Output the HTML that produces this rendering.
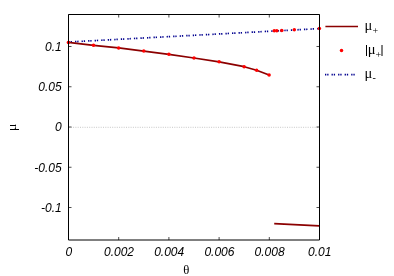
<!DOCTYPE html><html><head><meta charset="utf-8"><style>html,body{margin:0;padding:0;background:#fff}svg{display:block;will-change:transform}text{font-family:"Liberation Sans",sans-serif;fill:#000}</style></head><body>
<svg width="394" height="276" viewBox="0 0 394 276">
<rect width="394" height="276" fill="#fff"/>
<line x1="68.5" y1="127.3" x2="319.5" y2="127.3" stroke="#a8a8a8" stroke-width="0.65" stroke-dasharray="1 1.3"/>
<line x1="68.5" y1="42.0" x2="319.5" y2="28.6" stroke="#00008f" stroke-width="1.7" stroke-dasharray="1.3 0.9 1.3 3.05"/>
<polyline points="68.4,42.4 93.5,45.3 118.65,47.9 143.75,51.1 168.9,54.3 194.0,58.0 219.1,61.85 244.15,66.7 256.6,70.2 269.1,75.05" fill="none" stroke="#8b0000" stroke-width="1.7" stroke-linejoin="round"/>
<line x1="274.2" y1="223.7" x2="319.3" y2="225.8" stroke="#8b0000" stroke-width="1.7"/>
<circle cx="68.4" cy="42.4" r="1.75" fill="#ff0000"/>
<circle cx="93.5" cy="45.3" r="1.75" fill="#ff0000"/>
<circle cx="118.65" cy="47.9" r="1.75" fill="#ff0000"/>
<circle cx="143.75" cy="51.1" r="1.75" fill="#ff0000"/>
<circle cx="168.9" cy="54.3" r="1.75" fill="#ff0000"/>
<circle cx="194.0" cy="58.0" r="1.75" fill="#ff0000"/>
<circle cx="219.1" cy="61.85" r="1.75" fill="#ff0000"/>
<circle cx="244.15" cy="66.7" r="1.75" fill="#ff0000"/>
<circle cx="256.6" cy="70.2" r="1.75" fill="#ff0000"/>
<circle cx="269.1" cy="75.05" r="1.75" fill="#ff0000"/>
<circle cx="274.25" cy="30.8" r="1.75" fill="#ff0000"/>
<circle cx="276.8" cy="30.75" r="1.75" fill="#ff0000"/>
<circle cx="281.8" cy="30.5" r="1.75" fill="#ff0000"/>
<circle cx="294.3" cy="29.7" r="1.75" fill="#ff0000"/>
<circle cx="319.4" cy="28.6" r="1.75" fill="#ff0000"/>
<path d="M68.5,14.5H319.5V240.0H68.5Z" fill="none" stroke="#000" stroke-width="1"/>
<line x1="68.5" y1="46.50" x2="71.5" y2="46.50" stroke="#000" stroke-width="0.7"/>
<line x1="319.5" y1="46.50" x2="316.5" y2="46.50" stroke="#000" stroke-width="0.7"/>
<text x="61.7" y="50.90" font-size="12" font-style="italic" text-anchor="end">0.1</text>
<line x1="68.5" y1="86.75" x2="71.5" y2="86.75" stroke="#000" stroke-width="0.7"/>
<line x1="319.5" y1="86.75" x2="316.5" y2="86.75" stroke="#000" stroke-width="0.7"/>
<text x="61.7" y="91.15" font-size="12" font-style="italic" text-anchor="end">0.05</text>
<line x1="68.5" y1="127.00" x2="71.5" y2="127.00" stroke="#000" stroke-width="0.7"/>
<line x1="319.5" y1="127.00" x2="316.5" y2="127.00" stroke="#000" stroke-width="0.7"/>
<text x="61.7" y="131.40" font-size="12" font-style="italic" text-anchor="end">0</text>
<line x1="68.5" y1="167.25" x2="71.5" y2="167.25" stroke="#000" stroke-width="0.7"/>
<line x1="319.5" y1="167.25" x2="316.5" y2="167.25" stroke="#000" stroke-width="0.7"/>
<text x="61.7" y="171.65" font-size="12" font-style="italic" text-anchor="end">-0.05</text>
<line x1="68.5" y1="207.50" x2="71.5" y2="207.50" stroke="#000" stroke-width="0.7"/>
<line x1="319.5" y1="207.50" x2="316.5" y2="207.50" stroke="#000" stroke-width="0.7"/>
<text x="61.7" y="211.90" font-size="12" font-style="italic" text-anchor="end">-0.1</text>
<line x1="68.50" y1="240.0" x2="68.50" y2="237.0" stroke="#000" stroke-width="0.7"/>
<line x1="68.50" y1="14.5" x2="68.50" y2="17.5" stroke="#000" stroke-width="0.7"/>
<text x="68.80" y="256.1" font-size="12" font-style="italic" text-anchor="middle">0</text>
<line x1="118.70" y1="240.0" x2="118.70" y2="237.0" stroke="#000" stroke-width="0.7"/>
<line x1="118.70" y1="14.5" x2="118.70" y2="17.5" stroke="#000" stroke-width="0.7"/>
<text x="119.00" y="256.1" font-size="12" font-style="italic" text-anchor="middle">0.002</text>
<line x1="168.90" y1="240.0" x2="168.90" y2="237.0" stroke="#000" stroke-width="0.7"/>
<line x1="168.90" y1="14.5" x2="168.90" y2="17.5" stroke="#000" stroke-width="0.7"/>
<text x="169.20" y="256.1" font-size="12" font-style="italic" text-anchor="middle">0.004</text>
<line x1="219.10" y1="240.0" x2="219.10" y2="237.0" stroke="#000" stroke-width="0.7"/>
<line x1="219.10" y1="14.5" x2="219.10" y2="17.5" stroke="#000" stroke-width="0.7"/>
<text x="219.40" y="256.1" font-size="12" font-style="italic" text-anchor="middle">0.006</text>
<line x1="269.30" y1="240.0" x2="269.30" y2="237.0" stroke="#000" stroke-width="0.7"/>
<line x1="269.30" y1="14.5" x2="269.30" y2="17.5" stroke="#000" stroke-width="0.7"/>
<text x="269.60" y="256.1" font-size="12" font-style="italic" text-anchor="middle">0.008</text>
<line x1="319.50" y1="240.0" x2="319.50" y2="237.0" stroke="#000" stroke-width="0.7"/>
<line x1="319.50" y1="14.5" x2="319.50" y2="17.5" stroke="#000" stroke-width="0.7"/>
<text x="319.80" y="256.1" font-size="12" font-style="italic" text-anchor="middle">0.01</text>
<text transform="translate(186.4,274.4) scale(1.06,1)" font-size="12" text-anchor="middle" style="font-family:'Liberation Serif',serif">θ</text>
<text transform="translate(16.4,127.45) rotate(-90) scale(1.09,1)" font-size="13.2" text-anchor="middle" style="font-family:'Liberation Serif',serif">μ</text>
<line x1="325.4" y1="26.5" x2="358" y2="26.5" stroke="#8b0000" stroke-width="1.7"/>
<circle cx="341.5" cy="50.5" r="1.75" fill="#ff0000"/>
<line x1="325" y1="74.7" x2="356" y2="74.7" stroke="#00008f" stroke-width="1.7" stroke-dasharray="1.3 0.9 1.3 3.05"/>
<text x="364.6" y="29.7" font-size="14.5" style="font-family:'Liberation Serif',serif">μ<tspan font-size="10" dy="4.5">+</tspan></text>
<line x1="366.5" y1="45" x2="366.5" y2="56" stroke="#000" stroke-width="1"/>
<line x1="382.0" y1="45" x2="382.0" y2="56" stroke="#000" stroke-width="1"/>
<text x="367.7" y="53.7" font-size="14.5" style="font-family:'Liberation Serif',serif">μ<tspan font-size="10" dy="4.5">+</tspan></text>
<text x="364.6" y="77.7" font-size="14.5" style="font-family:'Liberation Serif',serif">μ<tspan font-size="10" dy="3.6">-</tspan></text>
</svg></body></html>
